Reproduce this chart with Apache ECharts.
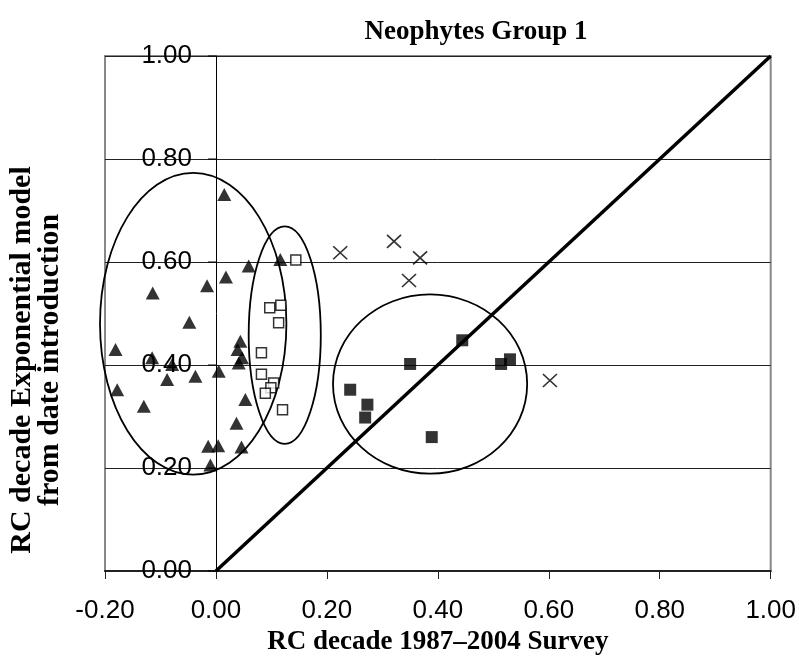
<!DOCTYPE html>
<html>
<head>
<meta charset="utf-8">
<script src="https://cdn.jsdelivr.net/npm/echarts@6/dist/echarts.min.js"></script>
<style>html,body{margin:0;padding:0;background:#fff}#c{width:799px;height:667px}</style>
</head>
<body>
<div id="c"></div>
<script>
// Solid triangles
const triX = [0.015, 0.059, 0.116, 0.018, -0.016, -0.114, -0.048, -0.181, -0.115, -0.079, -0.088, -0.037, 0.005, -0.178, -0.130, 0.044, 0.039, 0.047, 0.041, 0.053, 0.037, -0.014, 0.004, 0.046, -0.010];
const triY = [0.731, 0.592, 0.605, 0.571, 0.554, 0.540, 0.483, 0.430, 0.414, 0.401, 0.372, 0.378, 0.388, 0.352, 0.320, 0.446, 0.430, 0.414, 0.404, 0.333, 0.287, 0.242, 0.243, 0.241, 0.206];
// Open squares
const openSqX = [0.144, 0.097, 0.117, 0.113, 0.082, 0.082, 0.104, 0.099, 0.089, 0.120];
const openSqY = [0.604, 0.511, 0.516, 0.482, 0.424, 0.382, 0.365, 0.356, 0.345, 0.313];
// Filled squares
const fillSqX = [0.444, 0.350, 0.514, 0.530, 0.242, 0.273, 0.269, 0.389];
const fillSqY = [0.448, 0.402, 0.402, 0.411, 0.352, 0.323, 0.298, 0.260];
// Crosses
const crossX = [0.224, 0.321, 0.368, 0.348, 0.602];
const crossY = [0.618, 0.640, 0.608, 0.564, 0.370];
// 1:1 line
const diagX = [0, 1];
const diagY = [0, 1];
// Group ellipses: centre x, centre y, radius x, radius y (data units)
const ellCX = [-0.041, 0.124, 0.386];
const ellCY = [0.480, 0.458, 0.363];
const ellRX = [0.168, 0.065, 0.175];
const ellRY = [0.293, 0.211, 0.174];
// Axis ticks
const xTicks = [-0.2, 0, 0.2, 0.4, 0.6, 0.8, 1.0];
const yTicks = [0, 0.2, 0.4, 0.6, 0.8, 1.0];

const zip = (a, b) => a.map((v, i) => [v, b[i]]);
const ellData = ellCX.map((v, i) => [v, ellCY[i], ellRX[i], ellRY[i]]);
const yTickData = yTicks.map(v => [0, v]);

const chart = echarts.init(document.getElementById('c'));
chart.setOption({
  animation: false,
  title: {
    text: 'Neophytes Group 1',
    left: 471, top: 14, textAlign: 'center',
    textStyle: {fontFamily: 'Liberation Serif', fontWeight: 'bold', fontSize: 27, color: '#000'}
  },
  grid: {left: 105, right: 28, top: 56, bottom: 96, show: true, borderColor: '#888', borderWidth: 2, backgroundColor: 'transparent'},
  xAxis: {
    type: 'value', min: -0.2, max: 1.0, interval: 0.2,
    name: 'RC decade 1987\u20132004 Survey', nameLocation: 'middle', nameGap: 39,
    nameTextStyle: {fontFamily: 'Liberation Serif', fontWeight: 'bold', fontSize: 27, color: '#000'},
    axisLine: {onZero: true, lineStyle: {color: '#222', width: 2}},
    axisTick: {show: true, length: 8, lineStyle: {color: '#222'}},
    axisLabel: {fontFamily: 'Liberation Sans', fontSize: 26, color: '#000', margin: 27,
      formatter: v => xTicks.some(t => Math.abs(t - v) < 1e-9) ? v.toFixed(2) : ''},
    splitLine: {show: false}
  },
  yAxis: {
    type: 'value', min: 0, max: 1.0, interval: 0.2,
    axisLine: {onZero: true, lineStyle: {color: '#000', width: 1}},
    axisTick: {show: false},
    axisLabel: {fontFamily: 'Liberation Sans', fontSize: 26, color: '#000', margin: -87,
      formatter: v => yTicks.some(t => Math.abs(t - v) < 1e-9) ? v.toFixed(2) : ''},
    splitLine: {show: true, lineStyle: {color: '#222', width: 1}}
  },
  graphic: [{
    type: 'text', x: 36, y: 360, rotation: Math.PI / 2,
    style: {text: 'RC decade Exponential model\nfrom date introduction', align: 'center', verticalAlign: 'middle',
      fontFamily: 'Liberation Serif', fontWeight: 'bold', fontSize: 30, lineHeight: 28, fill: '#000'}
  }],
  series: [
    {type: 'line', data: zip(diagX, diagY), symbol: 'none', lineStyle: {color: '#000', width: 3.5}, z: 3},
    {type: 'custom', data: ellData, clip: false, z: 4,
      renderItem: (params, api) => {
        const c = api.coord([api.value(0), api.value(1)]);
        const s = api.size([api.value(2), api.value(3)]);
        return {type: 'ellipse', shape: {cx: c[0], cy: c[1], rx: s[0], ry: s[1]},
          style: {fill: 'none', stroke: '#000', lineWidth: 1.8}};
      }},
    {type: 'custom', data: yTickData, clip: false, z: 4,
      renderItem: (params, api) => {
        const p = api.coord([api.value(0), api.value(1)]);
        return {type: 'line', shape: {x1: p[0] - 8, y1: p[1], x2: p[0], y2: p[1]},
          style: {stroke: '#000', lineWidth: 1}};
      }},
    {type: 'scatter', data: zip(triX, triY), symbol: 'triangle', symbolSize: [14, 13],
      itemStyle: {color: '#000'}, z: 5},
    {type: 'scatter', data: zip(openSqX, openSqY), symbol: 'rect', symbolSize: 10,
      itemStyle: {color: '#fff', borderColor: '#000', borderWidth: 1.5}, z: 5},
    {type: 'scatter', data: zip(fillSqX, fillSqY), symbol: 'rect', symbolSize: 12,
      itemStyle: {color: '#000'}, z: 5},
    {type: 'scatter', data: zip(crossX, crossY), symbol: 'path://M0,0L10,10M10,0L0,10', symbolSize: [14, 13],
      itemStyle: {color: 'none', borderColor: '#000', borderWidth: 1.6}, z: 5}
  ]
});
</script>
</body>
</html>
